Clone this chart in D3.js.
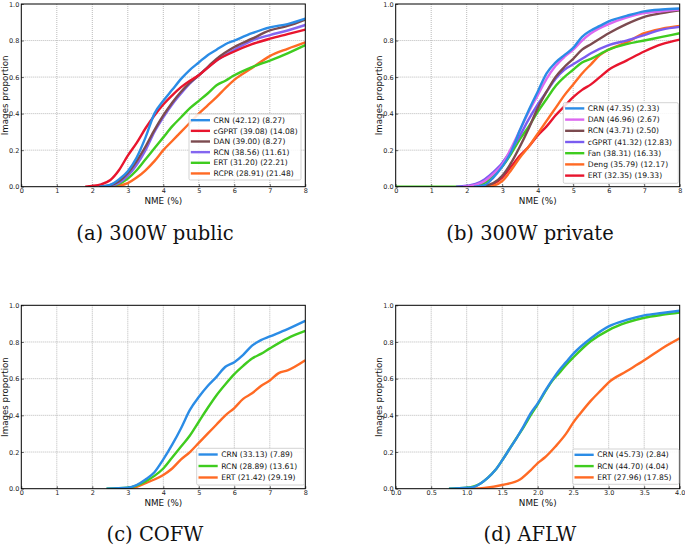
<!DOCTYPE html>
<html><head><meta charset="utf-8">
<script src="https://cdnjs.cloudflare.com/ajax/libs/d3/7.8.5/d3.min.js"></script>
<style>body{margin:0;background:#fff}svg{display:block}</style>
</head><body>
<svg id="c" width="685" height="549"></svg>
<script>
// ---------- data ----------
const ticks8 = [0,1,2,3,4,5,6,7,8];
const ticks4 = [0,0.5,1,1.5,2,2.5,3,3.5,4];
const yTicks = [0,0.2,0.4,0.6,0.8,1.0];

// (a) 300W public
const aLabels = ["CRN (42.12) (8.27)","cGPRT (39.08) (14.08)","DAN (39.00) (8.27)","RCN (38.56) (11.61)","ERT (31.20) (22.21)","RCPR (28.91) (21.48)"];
const aCRN = [[2.2,0],[2.5,0.01],[2.75,0.04],[3,0.085],[3.25,0.16],[3.5,0.27],[3.75,0.4],[4,0.47],[4.25,0.53],[4.5,0.59],[4.75,0.64],[5,0.68],[5.25,0.72],[5.5,0.75],[5.75,0.78],[6,0.8],[6.5,0.84],[7,0.872],[7.5,0.89],[8,0.92]];
const aCGPRT = [[1.8,0],[2,0.004],[2.25,0.013],[2.5,0.035],[2.75,0.09],[3,0.17],[3.25,0.24],[3.5,0.32],[3.75,0.39],[4,0.45],[4.25,0.5],[4.5,0.545],[4.75,0.58],[5,0.61],[5.25,0.65],[5.5,0.69],[6,0.74],[6.5,0.78],[7,0.81],[7.5,0.835],[8,0.86]];
const aDAN = [[2.2,0],[2.5,0.008],[2.75,0.03],[3,0.075],[3.25,0.14],[3.5,0.22],[3.75,0.31],[4,0.39],[4.25,0.46],[4.5,0.52],[4.75,0.57],[5,0.61],[5.25,0.655],[5.5,0.7],[6,0.765],[6.5,0.81],[7,0.855],[7.5,0.88],[8,0.915]];
const aRCN = [[2.3,0],[2.5,0.005],[2.75,0.02],[3,0.06],[3.25,0.12],[3.5,0.2],[3.75,0.3],[4,0.38],[4.25,0.45],[4.5,0.51],[4.75,0.565],[5,0.61],[5.5,0.69],[6,0.75],[6.5,0.8],[7,0.83],[7.5,0.855],[8,0.885]];
const aERT = [[2.4,0],[2.75,0.015],[3,0.045],[3.25,0.09],[3.5,0.15],[3.75,0.21],[4,0.27],[4.25,0.33],[4.5,0.38],[4.75,0.43],[5,0.47],[5.25,0.51],[5.5,0.555],[5.75,0.58],[6,0.61],[6.5,0.655],[7,0.69],[7.5,0.73],[8,0.775]];
const aRCPR = [[2.6,0],[2.75,0.005],[3,0.02],[3.25,0.05],[3.5,0.09],[3.75,0.14],[4,0.2],[4.25,0.25],[4.5,0.3],[4.75,0.35],[5,0.4],[5.25,0.445],[5.5,0.49],[5.75,0.54],[6,0.585],[6.5,0.65],[7,0.715],[7.5,0.755],[8,0.79]];

// (b) 300W private
const bLabels = ["CRN (47.35) (2.33)","DAN (46.96) (2.67)","RCN (43.71) (2.50)","cGPRT (41.32) (12.83)","Fan (38.31) (16.33)","Deng (35.79) (12.17)","ERT (32.35) (19.33)"];
const bCRN = [[2.2,0],[2.5,0.008],[2.75,0.05],[3,0.11],[3.25,0.19],[3.5,0.31],[3.75,0.42],[4,0.52],[4.25,0.62],[4.5,0.68],[4.75,0.72],[5,0.76],[5.25,0.82],[5.5,0.855],[5.75,0.88],[6,0.905],[6.5,0.935],[7,0.96],[7.5,0.97],[8,0.975]];
const bDAN = [[1.9,0],[2.25,0.01],[2.5,0.03],[2.75,0.07],[3,0.12],[3.25,0.21],[3.5,0.31],[3.75,0.41],[4,0.5],[4.25,0.59],[4.5,0.66],[4.75,0.71],[5,0.75],[5.25,0.8],[5.5,0.84],[6,0.89],[6.5,0.925],[7,0.95],[7.5,0.96],[8,0.97]];
const bRCN = [[2.3,0],[2.5,0.005],[2.75,0.02],[3,0.06],[3.25,0.13],[3.5,0.22],[3.75,0.32],[4,0.43],[4.25,0.52],[4.5,0.6],[4.75,0.655],[5,0.7],[5.25,0.75],[5.5,0.78],[6,0.84],[6.5,0.89],[7,0.93],[7.5,0.95],[8,0.965]];
const bCGPRT = [[1.7,0],[2,0.005],[2.25,0.015],[2.5,0.04],[2.75,0.08],[3,0.13],[3.25,0.2],[3.5,0.28],[3.75,0.37],[4,0.45],[4.25,0.52],[4.5,0.59],[4.75,0.64],[5,0.67],[5.25,0.7],[5.5,0.73],[6,0.775],[6.5,0.8],[7,0.83],[7.5,0.86],[8,0.875]];
const bFan = [[0,0],[2,0],[2.25,0.005],[2.5,0.02],[2.75,0.06],[3,0.11],[3.25,0.18],[3.5,0.26],[3.75,0.33],[4,0.41],[4.25,0.48],[4.5,0.55],[4.75,0.6],[5,0.64],[5.25,0.68],[5.5,0.7],[6,0.75],[6.5,0.78],[7,0.8],[7.5,0.82],[8,0.84]];
const bDeng = [[2.4,0],[2.75,0.005],[3,0.03],[3.25,0.09],[3.5,0.16],[3.75,0.22],[4,0.29],[4.25,0.36],[4.5,0.43],[4.75,0.5],[5,0.56],[5.25,0.62],[5.5,0.67],[5.75,0.72],[6,0.75],[6.5,0.79],[7,0.84],[7.5,0.865],[8,0.88]];
const bERT = [[2.3,0],[2.5,0.003],[2.75,0.015],[3,0.05],[3.25,0.11],[3.5,0.17],[3.75,0.22],[4,0.28],[4.25,0.33],[4.5,0.39],[4.75,0.44],[5,0.49],[5.25,0.53],[5.5,0.56],[5.75,0.6],[6,0.64],[6.5,0.69],[7,0.74],[7.5,0.78],[8,0.805]];

// (c) COFW
const cLabels = ["CRN (33.13) (7.89)","RCN (28.89) (13.61)","ERT (21.42) (29.19)"];
const cCRN = [[2.4,0],[3,0.005],[3.25,0.02],[3.5,0.05],[3.75,0.09],[4,0.16],[4.25,0.24],[4.5,0.33],[4.75,0.43],[5,0.5],[5.25,0.56],[5.5,0.61],[5.75,0.665],[6,0.69],[6.25,0.73],[6.5,0.78],[6.75,0.81],[7,0.83],[7.5,0.87],[8,0.915]];
const cRCN = [[2.4,0],[3,0.005],[3.5,0.04],[3.75,0.07],[4,0.11],[4.25,0.17],[4.5,0.23],[4.75,0.29],[5,0.365],[5.25,0.44],[5.5,0.51],[5.75,0.57],[6,0.625],[6.25,0.67],[6.5,0.71],[6.75,0.735],[7,0.765],[7.5,0.82],[8,0.86]];
const cERT = [[2.9,0],[3.25,0.01],[3.5,0.03],[3.75,0.05],[4,0.075],[4.25,0.11],[4.5,0.16],[4.75,0.2],[5,0.25],[5.25,0.3],[5.5,0.35],[5.75,0.4],[6,0.44],[6.25,0.49],[6.5,0.52],[6.75,0.56],[7,0.59],[7.25,0.63],[7.5,0.645],[8,0.7]];

// (d) AFLW
const dLabels = ["CRN (45.73) (2.84)","RCN (44.70) (4.04)","ERT (27.96) (17.85)"];
const dCRN = [[0.75,0],[1,0.005],[1.1,0.01],[1.2,0.03],[1.3,0.06],[1.4,0.1],[1.5,0.155],[1.6,0.215],[1.7,0.275],[1.8,0.34],[1.9,0.41],[2,0.465],[2.1,0.53],[2.2,0.59],[2.3,0.645],[2.4,0.69],[2.5,0.735],[2.75,0.82],[3,0.885],[3.25,0.92],[3.5,0.945],[3.75,0.958],[4,0.97]];
const dRCN = [[0.75,0],[1,0.005],[1.1,0.012],[1.2,0.03],[1.3,0.06],[1.4,0.1],[1.5,0.155],[1.6,0.215],[1.7,0.275],[1.8,0.335],[1.9,0.4],[2,0.46],[2.1,0.525],[2.2,0.585],[2.3,0.63],[2.4,0.675],[2.5,0.715],[2.75,0.805],[3,0.865],[3.25,0.905],[3.5,0.932],[3.75,0.948],[4,0.96]];
const dERT = [[1.05,0],[1.25,0.004],[1.5,0.02],[1.75,0.05],[1.9,0.1],[2,0.14],[2.1,0.17],[2.25,0.23],[2.4,0.3],[2.5,0.36],[2.6,0.41],[2.75,0.48],[2.9,0.54],[3,0.58],[3.25,0.64],[3.5,0.7],[3.75,0.765],[4,0.82]];

const captions = ["(a) 300W public","(b) 300W private","(c) COFW","(d) AFLW"];

// ---------- colours ----------
const BLUE="#2b8ce6", RED="#e8152e", BROWN="#7c4b50", PURPLE="#8466f0", GREEN="#3fcc1f", ORANGE="#ff6a24", MAGENTA="#dc68f0", VIOLET="#7a5cf0";

// ---------- layout ----------
const panels = [
  {box:[21.3,4,305.3,186.7], dom:[0,8], ticks:ticks8, fmt:d3.format("d"), cap:[155,240],
   series:[aCRN,aCGPRT,aDAN,aRCN,aERT,aRCPR], colors:[BLUE,RED,BROWN,PURPLE,GREEN,ORANGE], labels:aLabels,
   leg:[189,114,301,180], legRow0:120.2, legStep:10.65},
  {box:[395.7,4,679.7,186.7], dom:[0,8], ticks:ticks8, fmt:d3.format("d"), cap:[530,240],
   series:[bCRN,bDAN,bRCN,bCGPRT,bFan,bDeng,bERT], colors:[BLUE,MAGENTA,BROWN,VIOLET,GREEN,ORANGE,RED], labels:bLabels,
   leg:[563.3,102.7,678.3,183.3], legRow0:108.4, legStep:11.2},
  {box:[21.3,305.3,305.3,488.7], dom:[0,8], ticks:ticks8, fmt:d3.format("d"), cap:[155,541],
   series:[cCRN,cRCN,cERT], colors:[BLUE,GREEN,ORANGE], labels:cLabels,
   leg:[196.7,448.3,304.3,485], legRow0:454.5, legStep:11.5},
  {box:[395.7,305.3,679.7,488.7], dom:[0,4], ticks:ticks4, fmt:d3.format(".1f"), cap:[530,541],
   series:[dCRN,dRCN,dERT], colors:[BLUE,GREEN,ORANGE], labels:dLabels,
   leg:[572.7,449,679,484.3], legRow0:454.8, legStep:11.3}
];

const svg = d3.select("#c");
const SANS = "DejaVu Sans, sans-serif";

panels.forEach((p,i)=>{
  const [x0,y0,x1,y1] = p.box;
  const x = d3.scaleLinear().domain(p.dom).range([x0,x1]);
  const y = d3.scaleLinear().domain([0,1]).range([y1,y0]);
  const g = svg.append("g");

  // grid
  g.append("g").selectAll("line").data(p.ticks.slice(1,-1)).join("line")
    .attr("x1",d=>x(d)).attr("x2",d=>x(d)).attr("y1",y0).attr("y2",y1)
    .attr("stroke","#a8a8a8").attr("stroke-width",0.8).attr("stroke-dasharray","1,1");
  g.append("g").selectAll("line").data(yTicks.slice(1,-1)).join("line")
    .attr("x1",x0).attr("x2",x1).attr("y1",d=>y(d)).attr("y2",d=>y(d))
    .attr("stroke","#a8a8a8").attr("stroke-width",0.8).attr("stroke-dasharray","1,1");

  // axes with d3 axis generators (inward ticks)
  const xa = g.append("g").attr("transform",`translate(0,${y1})`)
    .call(d3.axisBottom(x).tickValues(p.ticks).tickFormat(p.fmt).tickSize(-2.5).tickPadding(1.5));
  const ya = g.append("g").attr("transform",`translate(${x0},0)`)
    .call(d3.axisLeft(y).tickValues(yTicks).tickFormat(d3.format(".1f")).tickSize(-2.5).tickPadding(2));
  [xa,ya].forEach(a=>{
    a.select(".domain").remove();
    a.selectAll("text").attr("font-family",SANS).attr("font-size",6.5).attr("fill","#222");
    a.selectAll("line").attr("stroke","#000").attr("stroke-width",0.6);
  });

  // curves
  const line = d3.line().x(d=>x(d[0])).y(d=>y(d[1])).curve(d3.curveMonotoneX);
  const clipId = "clip"+i;
  g.append("clipPath").attr("id",clipId).append("rect")
    .attr("x",x0).attr("y",y0-2).attr("width",x1-x0).attr("height",y1-y0+2);
  const cg = g.append("g").attr("clip-path",`url(#${clipId})`);
  p.series.slice().reverse().forEach((s,k)=>{
    const idx = p.series.length-1-k;
    cg.append("path").datum(s).attr("d",line).attr("fill","none")
      .attr("stroke",p.colors[idx]).attr("stroke-width",2.4).attr("stroke-linejoin","round");
  });

  // frame
  g.append("rect").attr("x",x0).attr("y",y0).attr("width",x1-x0).attr("height",y1-y0)
    .attr("fill","none").attr("stroke","#000").attr("stroke-width",1);

  // axis labels
  g.append("text").attr("x",(x0+x1)/2).attr("y",y1+17).attr("text-anchor","middle")
    .attr("font-family",SANS).attr("font-size",8.8).attr("fill","#111").text("NME (%)");
  g.append("text").attr("transform",`translate(${x0-13.8},${(y0+y1)/2}) rotate(-90)`)
    .attr("text-anchor","middle").attr("font-family",SANS).attr("font-size",8.7).attr("fill","#111")
    .text("Images proportion");

  // legend
  const [lx0,ly0,lx1,ly1] = p.leg;
  g.append("rect").attr("x",lx0).attr("y",ly0).attr("width",lx1-lx0).attr("height",ly1-ly0)
    .attr("rx",1.5).attr("fill","#fff").attr("fill-opacity",0.85).attr("stroke","#c8c8c8").attr("stroke-width",0.8);
  p.labels.forEach((lab,k)=>{
    const ry = p.legRow0 + k*p.legStep;
    g.append("line").attr("x1",lx0+1.8).attr("x2",lx0+21).attr("y1",ry).attr("y2",ry)
      .attr("stroke",p.colors[k]).attr("stroke-width",2.4);
    g.append("text").attr("x",lx0+24.5).attr("y",ry).attr("dy","0.35em")
      .attr("font-family",SANS).attr("font-size",7.6).attr("fill","#111").text(lab);
  });

  // caption
  svg.append("text").attr("x",p.cap[0]).attr("y",p.cap[1]).attr("text-anchor","middle")
    .attr("font-family","DejaVu Serif, serif").attr("font-size",19.5).attr("fill","#111").text(captions[i]);
});
</script>
</body></html>
